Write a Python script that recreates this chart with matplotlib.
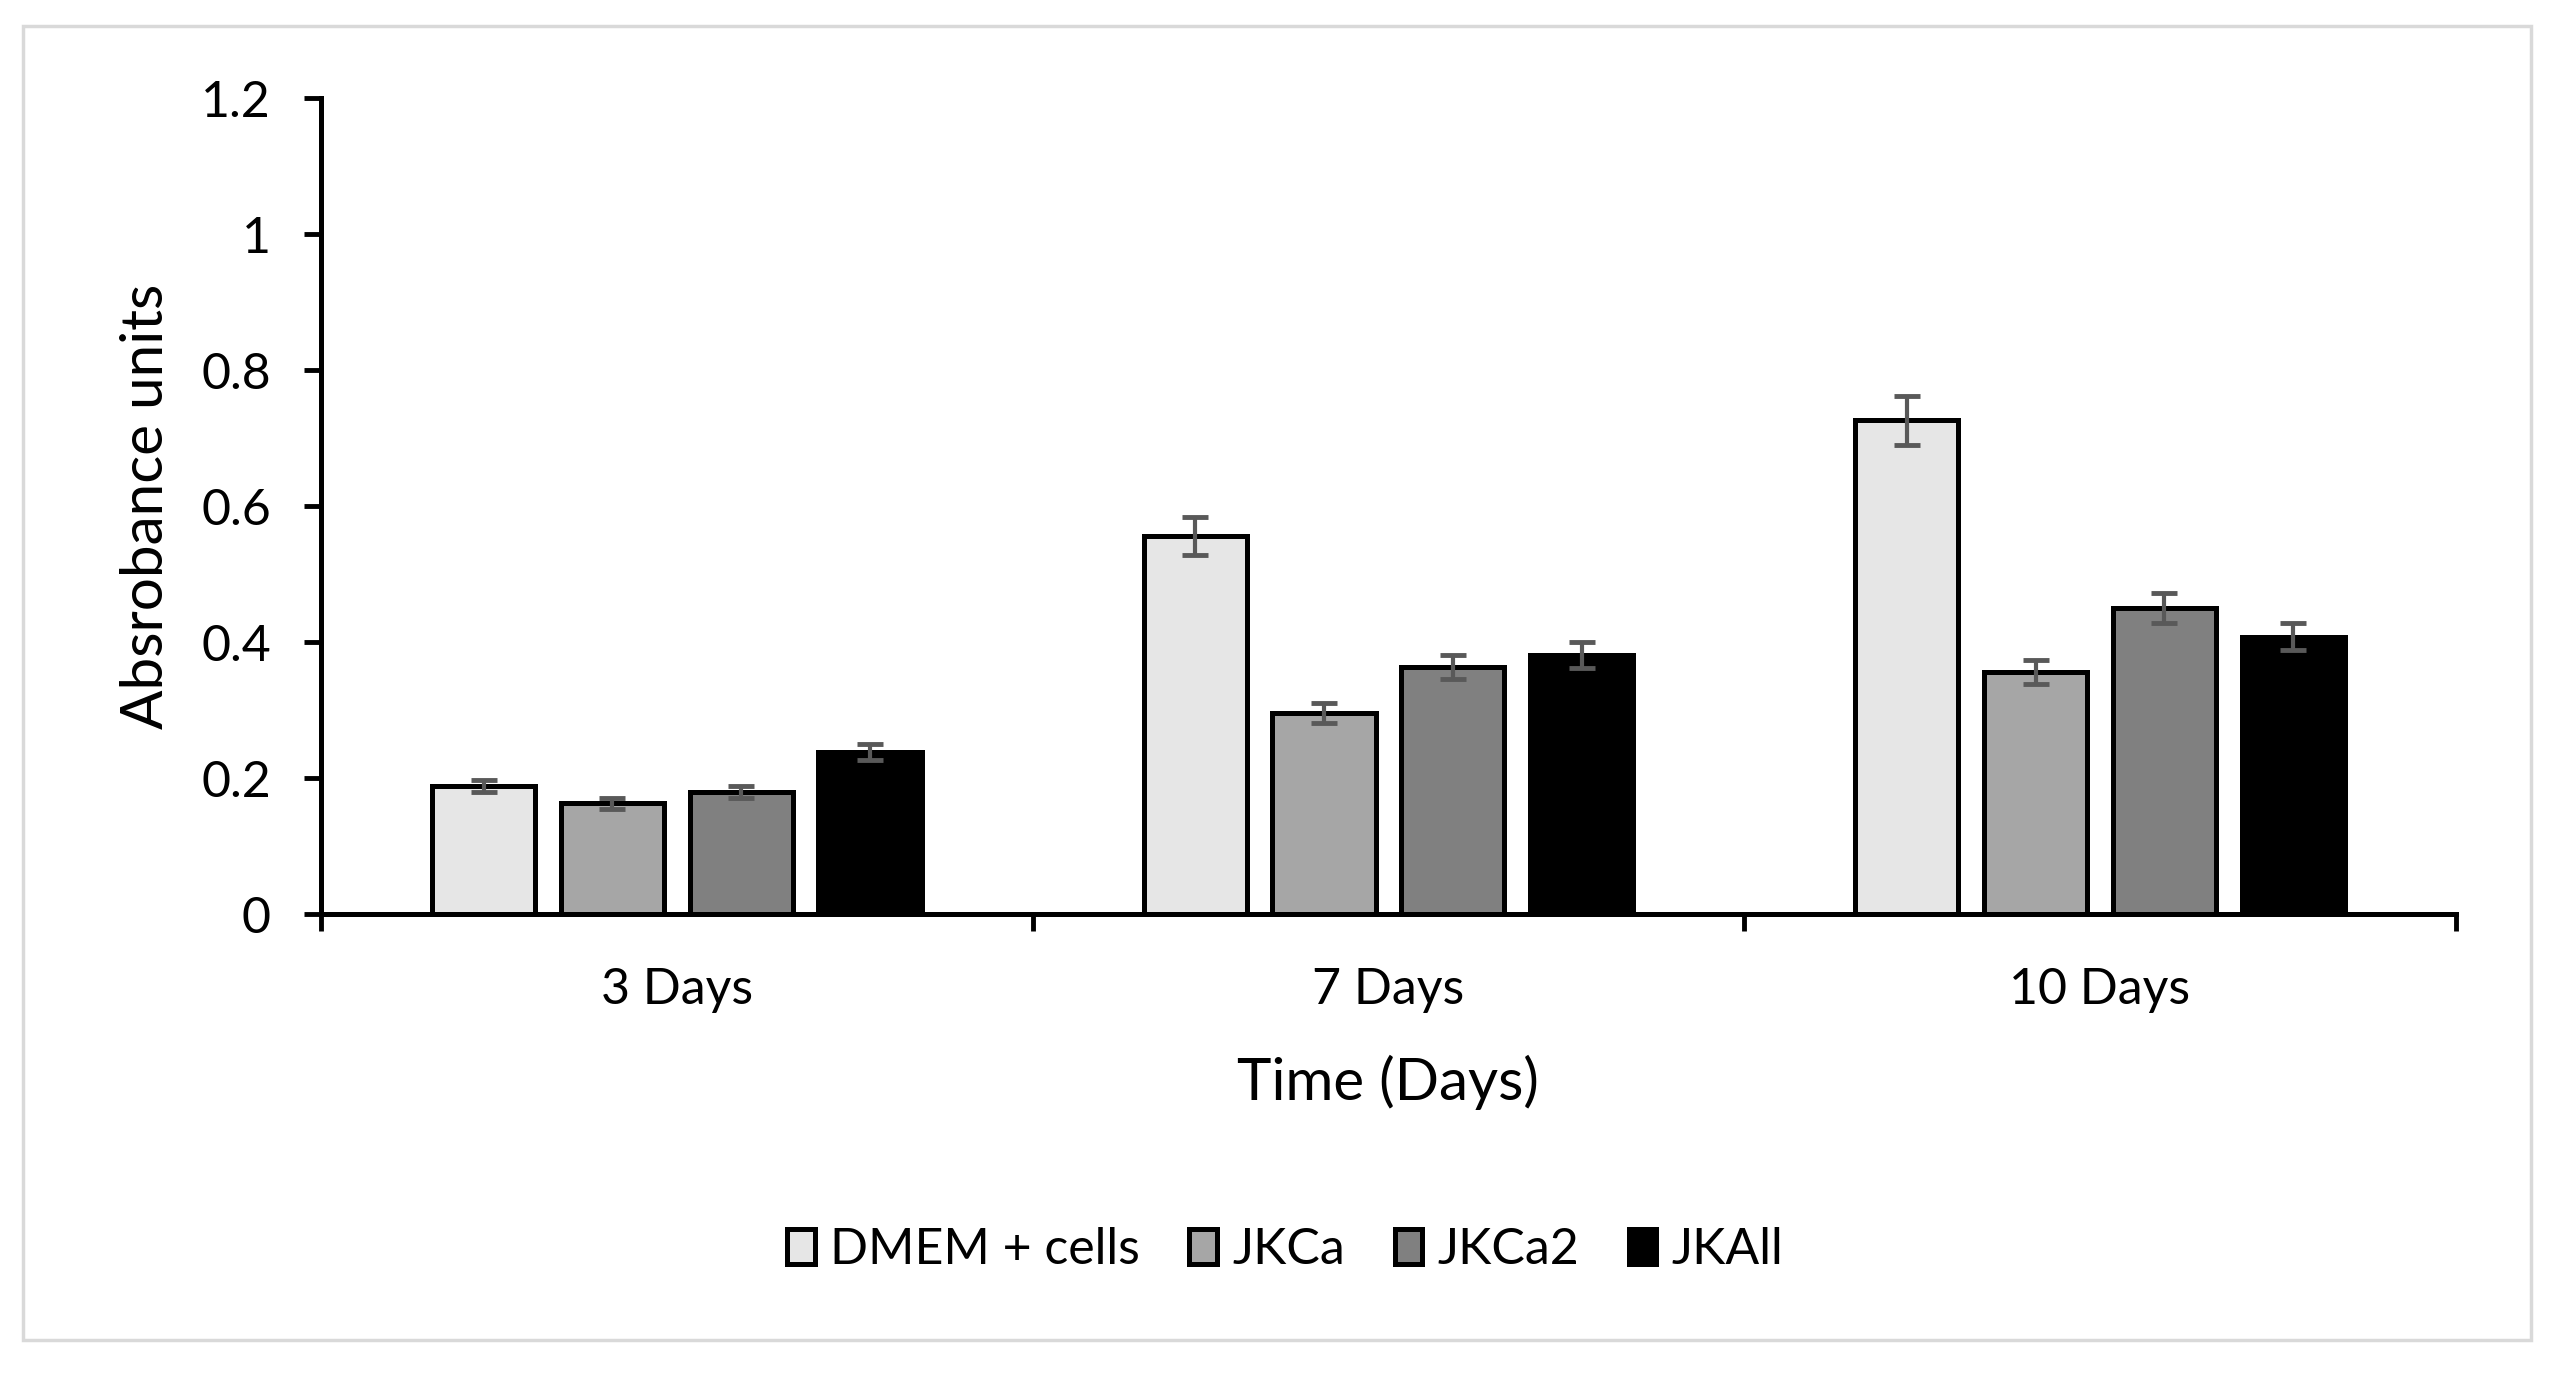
import matplotlib
matplotlib.use("Agg")
import matplotlib.pyplot as plt
import numpy as np
from matplotlib.patches import Rectangle

plt.rcParams['font.family'] = ['Lato', 'DejaVu Sans']

categories = ["3 Days", "7 Days", "10 Days"]
series = ["DMEM + cells", "JKCa", "JKCa2", "JKAll"]
dmem = [0.188, 0.556, 0.726]
jkca = [0.163, 0.296, 0.356]
jkca2 = [0.179, 0.363, 0.450]
jkall = [0.238, 0.381, 0.408]
dmem_err = [0.009, 0.028, 0.036]
jkca_err = [0.008, 0.015, 0.018]
jkca2_err = [0.009, 0.018, 0.022]
jkall_err = [0.012, 0.019, 0.020]
colors = ["#e6e6e6", "#a6a6a6", "#808080", "#000000"]
yticks = [0, 0.2, 0.4, 0.6, 0.8, 1, 1.2]
ytick_labels = ["0", "0.2", "0.4", "0.6", "0.8", "1", "1.2"]

values = [dmem, jkca, jkca2, jkall]
errors = [dmem_err, jkca_err, jkca2_err, jkall_err]

fig = plt.figure(figsize=(25.55, 13.73), dpi=100)
ax = fig.add_axes([0.1256, 0.3343, 0.9612 - 0.1256, 0.9286 - 0.3343])

x = np.arange(len(categories))
pitch = 0.181
width = 0.145
handles = []
for i, (vals, errs, c) in enumerate(zip(values, errors, colors)):
    pos = x + (i - 1.5) * pitch
    b = ax.bar(pos, vals, width=width, color=c, edgecolor="black", linewidth=3.6,
               label=series[i], zorder=2)
    ax.errorbar(pos, vals, yerr=errs, fmt="none", ecolor="#595959", elinewidth=3,
                capsize=9.5, capthick=3.5, zorder=3)
    handles.append(b)

ax.set_xlim(-0.5, 2.5)
ax.set_ylim(0, 1.2)
ax.set_yticks(yticks)
ax.set_yticklabels(ytick_labels)
ax.set_xticks(x)
ax.set_xticklabels(categories)
ax.set_xticks([-0.5, 0.5, 1.5, 2.5], minor=True)
ax.tick_params(axis="x", which="major", length=0, pad=38, labelsize=36)
ax.tick_params(axis="x", which="minor", length=12, width=3.5, direction="out")
ax.tick_params(axis="y", which="major", length=12, width=3.5, direction="out",
               pad=24, labelsize=36)

for s in ["top", "right"]:
    ax.spines[s].set_visible(False)
for s in ["left", "bottom"]:
    ax.spines[s].set_linewidth(3.6)

ax.set_ylabel("Absrobance units", fontsize=42, labelpad=20)
ax.set_xlabel("Time (Days)", fontsize=42, labelpad=30)

leg = fig.legend(handles=handles, labels=series, loc="center",
                 bbox_to_anchor=(0.503, 0.0897), ncol=4, frameon=False,
                 fontsize=36, handlelength=0.55, handleheight=0.7,
                 handletextpad=0.3, columnspacing=1.0)

border = Rectangle((23 / 2555, 1 - 1340 / 1373), (2531 - 23) / 2555, (1340 - 26) / 1373,
                   transform=fig.transFigure, fill=False, edgecolor="#d9d9d9",
                   linewidth=2.5)
fig.patches.append(border)

fig.savefig("out.png", dpi=100)
